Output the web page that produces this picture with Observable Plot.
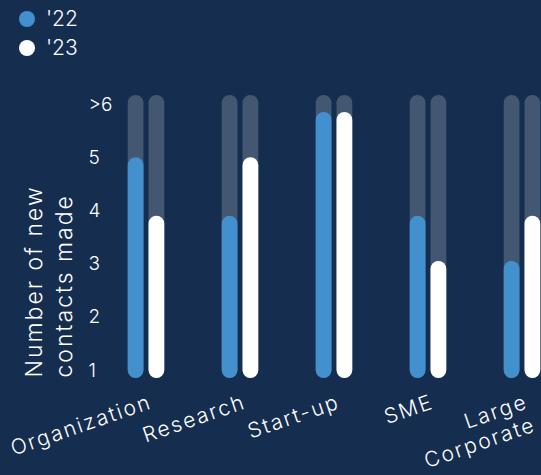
<!DOCTYPE html>
<html><head><meta charset="utf-8">
<script src="https://cdn.jsdelivr.net/npm/d3@7"></script>
<script src="https://cdn.jsdelivr.net/npm/@observablehq/plot@0.6"></script>
<style>
html,body{margin:0;padding:0;background:#152d4f;}
body{width:541px;height:475px;overflow:hidden;font-family:Inter,"Open Sans",sans-serif;font-weight:300;color:#fff;}
#legend{height:70px;position:relative;}
.item{position:absolute;left:19px;height:24px;display:flex;align-items:center;font-size:21px;line-height:24px;}
.sw{width:16px;height:16px;border-radius:50%;margin-right:11px;}
#chart svg{display:block;overflow:visible;}
</style></head><body>
<div id="legend"></div>
<div id="chart"></div>
<script>
const categories = ["Organization", "Research", "Start-up", "SME", "Large Corporate"];
const categoryLabels = ["Organization", "Research", "Start-up", "SME", "Large\nCorporate"];
const years = ["'22", "'23"];
const values22 = [5.0, 3.9, 5.85, 3.9, 3.05];
const values23 = [3.9, 5.0, 5.85, 3.05, 3.9];
const yTicks = [1, 2, 3, 4, 5, 6];
const yTickLabels = ["1", "2", "3", "4", "5", ">6"];
const yLabel = "Number of new\ncontacts made";
const colors = ["#4390cf", "#ffffff"];

const table = categories.map((c, i) => ({category: c, v22: values22[i], v23: values23[i]}));

// legend
const legend = document.getElementById("legend");
years.forEach((y, i) => {
  const it = document.createElement("div");
  it.className = "item";
  it.style.top = (7 + i * 29) + "px";
  const sw = document.createElement("span");
  sw.className = "sw";
  sw.style.background = colors[i];
  const t = document.createElement("span");
  t.textContent = y;
  it.append(sw, t);
  legend.append(it);
});

const off = 10.4;
const barW = {insetLeft: 39.1, insetRight: 39.1, rx: 8};
const yMin = yTicks[0], yMax = yTicks[yTicks.length - 1];

const chart = Plot.plot({
  width: 541,
  height: 405,
  marginTop: 34,
  marginBottom: 105,
  marginLeft: 88,
  marginRight: 0,
  style: {background: "transparent", color: "white", fontFamily: "Inter, 'Open Sans', sans-serif", fontWeight: 300},
  x: {type: "band", domain: categories, range: [98.6, 569.6], padding: 0, axis: null},
  y: {domain: [yMin, yMax], axis: null},
  marks: [
    Plot.barY(categories, {x: d => d, y1: yMin, y2: yMax, dx: -off, fill: "#fff", fillOpacity: 0.2, insetTop: -9, insetBottom: -8, ...barW}),
    Plot.barY(categories, {x: d => d, y1: yMin, y2: yMax, dx: off, fill: "#fff", fillOpacity: 0.2, insetTop: -9, insetBottom: -8, ...barW}),
    Plot.barY(table, {x: "category", y1: yMin, y2: "v22", dx: -off, fill: colors[0], insetBottom: -8, ...barW}),
    Plot.barY(table, {x: "category", y1: yMin, y2: "v23", dx: off, fill: colors[1], insetBottom: -8, ...barW}),
    Plot.text(yTicks, {y: d => d, text: (d, i) => yTickLabels[i], frameAnchor: "left", textAnchor: "start", fill: "white", fontSize: 19}),
    Plot.text(categories, {x: d => d, text: (d, i) => categoryLabels[i], frameAnchor: "bottom", rotate: -19, textAnchor: "end", lineAnchor: "top", dx: 1, dy: 21, fill: "white", fontSize: 21, lineHeight: 1.15}),
    Plot.text([yLabel], {frameAnchor: "bottom-left", rotate: -90, textAnchor: "start", lineAnchor: "top", dx: -67.6, dy: 7, fill: "white", fontSize: 23, lineHeight: 1.3})
  ]
});
const textGroups = chart.querySelectorAll('g[aria-label="text"]');
if (textGroups[1]) textGroups[1].style.letterSpacing = "2px";
if (textGroups[2]) textGroups[2].style.letterSpacing = "2px";
document.getElementById("chart").append(chart);
</script>
</body></html>
